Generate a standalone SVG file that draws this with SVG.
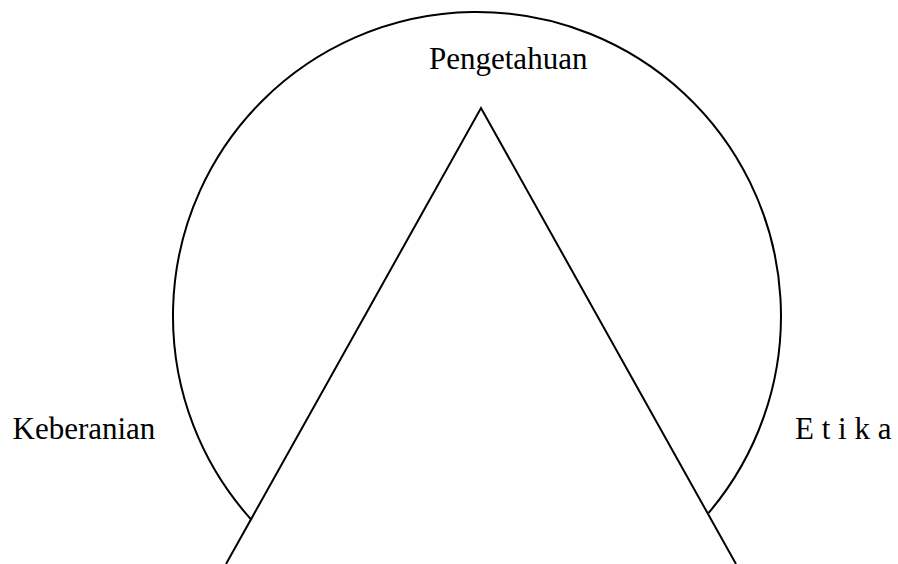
<svg xmlns="http://www.w3.org/2000/svg" width="898" height="564" viewBox="0 0 898 564">
<style>
.l{fill:none;stroke:#000;stroke-width:2}
.t{font-family:"Liberation Serif",serif;font-size:31px;fill:#000}
</style>
<rect width="898" height="564" fill="#fff"/>
<g id="connectors">
<path class="l" d="M 251.6 520 A 304 304 0 1 1 708.5 513"/>
<path class="l" d="M 226 564 L 481 108 L 736 564"/>
</g>
<g id="pengetahuan"><text class="t" x="429" y="69">Pengetahuan</text></g>
<g id="keberanian"><text class="t" x="12.5" y="439">Keberanian</text></g>
<g id="etika"><text class="t" x="795" y="439">E t i k a</text></g>
</svg>
